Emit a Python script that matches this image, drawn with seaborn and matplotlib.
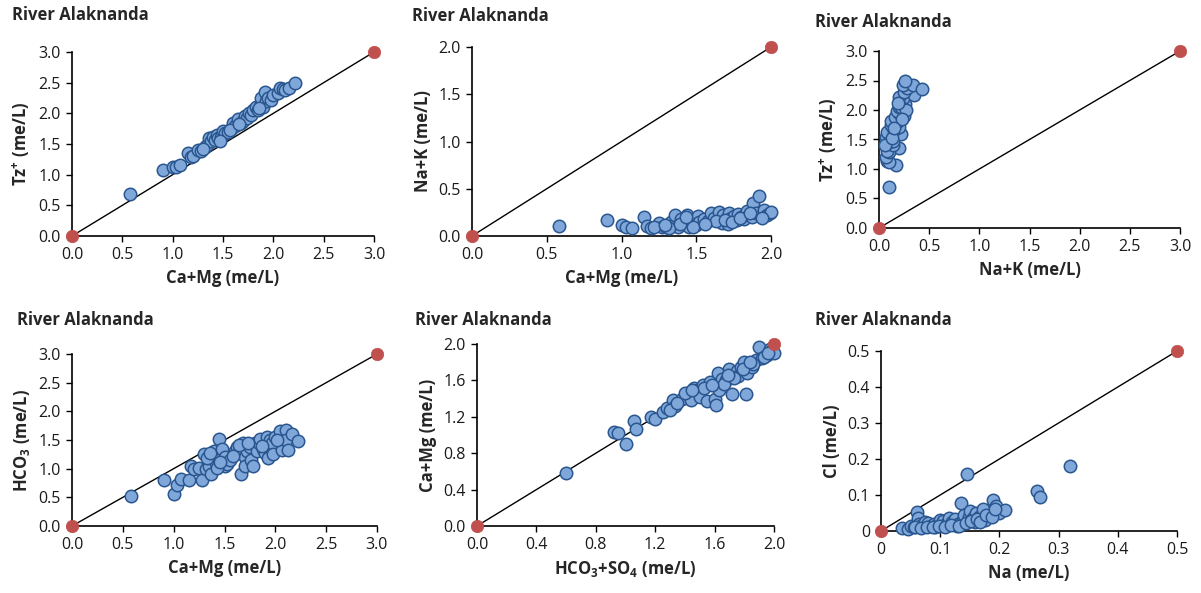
import matplotlib
matplotlib.use("Agg")
import matplotlib.pyplot as plt
import seaborn as sns
import pandas as pd

sns.set_style("ticks")
plt.rcParams['font.family'] = ['Open Sans', 'DejaVu Sans']
plt.rcParams['mathtext.fontset'] = 'custom'
plt.rcParams['mathtext.bf'] = 'Open Sans:bold'
plt.rcParams['mathtext.rm'] = 'Open Sans'

TITLE = "River Alaknanda"

# Panel 1: Tz+ vs Ca+Mg
p1_camg = [0.58, 0.90, 1.00, 1.03, 1.07, 1.15, 1.18, 1.20, 1.25, 1.28, 1.32, 1.34, 1.36, 1.38, 1.40,
           1.42, 1.44, 1.45, 1.48, 1.50, 1.52, 1.55, 1.58, 1.60, 1.62, 1.65, 1.68, 1.70, 1.72, 1.74,
           1.76, 1.78, 1.80, 1.83, 1.85, 1.88, 1.88, 1.90, 1.92, 1.93, 1.95, 1.98, 2.00, 2.05, 2.07,
           2.10, 2.12, 2.16, 2.22, 1.30, 1.47, 1.57, 1.66, 1.86]
p1_tz = [0.69, 1.07, 1.13, 1.12, 1.16, 1.35, 1.28, 1.30, 1.40, 1.38, 1.45, 1.48, 1.60, 1.55, 1.62,
         1.57, 1.65, 1.60, 1.62, 1.72, 1.68, 1.70, 1.75, 1.85, 1.80, 1.91, 1.85, 1.88, 1.95, 1.92,
         2.00, 1.98, 2.05, 2.10, 2.05, 2.15, 2.25, 2.10, 2.35, 2.20, 2.25, 2.22, 2.30, 2.33, 2.42,
         2.40, 2.38, 2.41, 2.49, 1.42, 1.55, 1.73, 1.82, 2.08]

# Panel 2: Na+K vs Ca+Mg
p2_camg = [0.58, 0.90, 1.00, 1.03, 1.07, 1.15, 1.17, 1.20, 1.25, 1.27, 1.30, 1.33, 1.35, 1.36, 1.38,
           1.40, 1.42, 1.44, 1.45, 1.47, 1.50, 1.51, 1.52, 1.55, 1.58, 1.60, 1.62, 1.65, 1.67, 1.68,
           1.70, 1.72, 1.73, 1.75, 1.77, 1.78, 1.80, 1.82, 1.84, 1.85, 1.87, 1.88, 1.90, 1.92, 1.93,
           1.95, 1.97, 1.99, 2.00, 1.32, 1.48, 1.63, 1.71, 1.22, 1.29, 1.39, 1.43, 1.56, 1.69,
           1.74, 1.79, 1.86, 1.94]
p2_nak = [0.11, 0.17, 0.12, 0.10, 0.08, 0.20, 0.11, 0.08, 0.14, 0.09, 0.10, 0.15, 0.12, 0.22, 0.10,
          0.18, 0.14, 0.22, 0.10, 0.16, 0.12, 0.21, 0.15, 0.18, 0.16, 0.24, 0.19, 0.25, 0.14, 0.22,
          0.18, 0.24, 0.19, 0.21, 0.17, 0.23, 0.20, 0.18, 0.26, 0.22, 0.20, 0.35, 0.24, 0.42, 0.21,
          0.27, 0.22, 0.24, 0.25, 0.08, 0.09, 0.16, 0.13, 0.10, 0.12, 0.13, 0.20, 0.13, 0.17,
          0.15, 0.19, 0.24, 0.19]

# Panel 3: Tz+ vs Na+K
p3_nak = [0.10, 0.17, 0.08, 0.10, 0.07, 0.20, 0.10, 0.08, 0.14, 0.10, 0.14, 0.07, 0.10, 0.08, 0.15,
          0.22, 0.16, 0.20, 0.12, 0.18, 0.12, 0.25, 0.16, 0.20, 0.18, 0.26, 0.20, 0.22, 0.24, 0.20,
          0.35, 0.25, 0.28, 0.24, 0.34, 0.26, 0.43, 0.22, 0.27, 0.23, 0.06, 0.13, 0.19, 0.15]
p3_tz = [0.69, 1.07, 1.13, 1.12, 1.20, 1.35, 1.28, 1.30, 1.40, 1.45, 1.48, 1.55, 1.60, 1.62, 1.65,
         1.60, 1.68, 1.72, 1.75, 1.80, 1.82, 1.90, 1.88, 1.95, 1.98, 2.10, 2.05, 2.15, 2.20, 2.22,
         2.25, 2.30, 2.38, 2.42, 2.42, 2.50, 2.35, 2.05, 2.00, 1.85, 1.40, 1.52, 2.12, 1.70]

# Panel 4: HCO3 vs Ca+Mg
p4_camg = [0.58, 0.90, 1.00, 1.03, 1.07, 1.15, 1.17, 1.20, 1.25, 1.28, 1.30, 1.32, 1.35, 1.37, 1.38,
           1.40, 1.42, 1.45, 1.45, 1.48, 1.50, 1.50, 1.52, 1.55, 1.60, 1.62, 1.65, 1.66, 1.68, 1.70,
           1.70, 1.72, 1.75, 1.76, 1.78, 1.80, 1.82, 1.84, 1.85, 1.88, 1.90, 1.92, 1.93, 1.95, 1.97,
           1.98, 2.00, 2.05, 2.07, 2.10, 2.10, 2.12, 2.16, 2.22, 1.33, 1.43, 1.58, 1.36, 1.46,
           1.64, 1.73, 1.87, 2.02]
p4_hco3 = [0.53, 0.80, 0.55, 0.72, 0.82, 0.80, 1.05, 1.00, 1.02, 0.80, 1.25, 1.00, 1.05, 0.90, 1.20,
           1.30, 1.10, 1.52, 1.15, 1.35, 1.05, 1.20, 1.08, 1.15, 1.30, 1.38, 1.32, 0.90, 1.45, 1.20,
           1.05, 1.30, 1.38, 1.15, 1.05, 1.45, 1.30, 1.45, 1.52, 1.35, 1.28, 1.55, 1.18, 1.50, 1.45,
           1.25, 1.55, 1.65, 1.32, 1.68, 1.50, 1.32, 1.60, 1.49, 1.18, 1.02, 1.22, 1.28, 1.12,
           1.42, 1.45, 1.40, 1.50]

# Panel 5: Ca+Mg vs HCO3+SO4
p5_hco3so4 = [0.60, 0.92, 0.95, 1.00, 1.06, 1.07, 1.17, 1.20, 1.25, 1.28, 1.32, 1.33, 1.38, 1.42, 1.44,
              1.46, 1.48, 1.50, 1.52, 1.55, 1.57, 1.60, 1.61, 1.62, 1.63, 1.65, 1.68, 1.70, 1.72, 1.75,
              1.76, 1.78, 1.80, 1.81, 1.82, 1.85, 1.88, 1.90, 1.92, 1.95, 1.97, 1.98, 2.00, 1.30, 1.40,
              1.53, 1.66, 1.73, 1.86, 1.93, 1.35, 1.45, 1.58, 1.69, 1.79, 1.84, 1.96]
p5_camg = [0.58, 1.03, 1.02, 0.90, 1.15, 1.07, 1.20, 1.18, 1.25, 1.30, 1.38, 1.32, 1.40, 1.45, 1.38,
           1.52, 1.50, 1.42, 1.55, 1.37, 1.58, 1.40, 1.33, 1.68, 1.50, 1.62, 1.60, 1.72, 1.45, 1.70,
           1.65, 1.75, 1.80, 1.45, 1.68, 1.75, 1.82, 1.97, 1.85, 1.88, 1.95, 1.92, 1.90, 1.28, 1.46,
           1.52, 1.56, 1.63, 1.78, 1.86, 1.35, 1.50, 1.55, 1.66, 1.72, 1.80, 1.90]

# Panel 6: Cl vs Na
p6_na = [0.035, 0.045, 0.050, 0.055, 0.060, 0.062, 0.065, 0.070, 0.075, 0.080, 0.085, 0.090, 0.095, 0.100,
         0.105, 0.110, 0.115, 0.120, 0.125, 0.130, 0.135, 0.138, 0.140, 0.145, 0.148, 0.150, 0.155, 0.160,
         0.165, 0.170, 0.175, 0.180, 0.185, 0.190, 0.195, 0.200, 0.210, 0.263, 0.268, 0.320, 0.058, 0.092,
         0.128, 0.158, 0.172, 0.068, 0.078, 0.088, 0.098, 0.108, 0.118, 0.132, 0.143, 0.152, 0.163,
         0.168, 0.178, 0.188, 0.193]
p6_cl = [0.008, 0.005, 0.015, 0.012, 0.052, 0.035, 0.020, 0.018, 0.025, 0.022, 0.015, 0.020, 0.018, 0.030,
         0.028, 0.020, 0.035, 0.025, 0.032, 0.020, 0.078, 0.030, 0.045, 0.158, 0.040, 0.055, 0.035, 0.050,
         0.040, 0.045, 0.030, 0.055, 0.050, 0.085, 0.070, 0.050, 0.058, 0.112, 0.095, 0.180, 0.010, 0.012,
         0.015, 0.025, 0.060, 0.008, 0.012, 0.010, 0.015, 0.012, 0.018, 0.015, 0.022, 0.028, 0.032,
         0.025, 0.045, 0.040, 0.060]

# reference 1:1 lines (endpoints)
ref1 = [0.0, 3.0]
ref2 = [0.0, 2.0]
ref6 = [0.0, 0.5]

fig = plt.figure(figsize=(12.01, 5.93), dpi=100)
W, H = 1201, 593

FILL = '#7FA7D9'
EDGE = '#2A5690'
RED = '#C0504D'


def make_ax(l, r, t, b):
    return fig.add_axes([l / W, 1 - b / H, (r - l) / W, (b - t) / H])


panels = [
    dict(box=(72, 374, 52, 236), x=p1_camg, y=p1_tz, ref=ref1, ticks=[0, 0.5, 1, 1.5, 2, 2.5, 3],
         fmt='{:.1f}', xl='Ca+Mg (me/L)', yl=r'Tz$^{\mathbf{+}}$ (me/L)', title=(12, 15)),
    dict(box=(472, 771, 47, 236), x=p2_camg, y=p2_nak, ref=ref2, ticks=[0, 0.5, 1, 1.5, 2],
         fmt='{:.1f}', xl='Ca+Mg (me/L)', yl='Na+K (me/L)', title=(412, 16)),
    dict(box=(879, 1180, 51, 228), x=p3_nak, y=p3_tz, ref=ref1, ticks=[0, 0.5, 1, 1.5, 2, 2.5, 3],
         fmt='{:.1f}', xl='Na+K (me/L)', yl=r'Tz$^{\mathbf{+}}$ (me/L)', title=(815, 22)),
    dict(box=(72, 377, 354, 526), x=p4_camg, y=p4_hco3, ref=ref1, ticks=[0, 0.5, 1, 1.5, 2, 2.5, 3],
         fmt='{:.1f}', xl='Ca+Mg (me/L)', yl=r'HCO$_{\mathbf{3}}$ (me/L)', title=(17, 320)),
    dict(box=(477, 774, 344, 526), x=p5_hco3so4, y=p5_camg, ref=ref2, ticks=[0, 0.4, 0.8, 1.2, 1.6, 2.0],
         fmt='{:.1f}', xl=r'HCO$_{\mathbf{3}}$+SO$_{\mathbf{4}}$ (me/L)', yl='Ca+Mg (me/L)', title=(415, 320)),
    dict(box=(881, 1177, 351, 531), x=p6_na, y=p6_cl, ref=ref6, ticks=[0, 0.1, 0.2, 0.3, 0.4, 0.5],
         fmt='six', xl='Na (me/L)', yl='Cl (me/L)', title=(815, 320)),
]

for p in panels:
    ax = make_ax(*p['box'])
    df = pd.DataFrame({'x': p['x'], 'y': p['y']})
    sns.lineplot(x=p['ref'], y=p['ref'], ax=ax, color='black', lw=1.0, zorder=2)
    sns.scatterplot(data=df, x='x', y='y', ax=ax, s=80, color=FILL, edgecolor=EDGE,
                    linewidth=1.1, zorder=3, legend=False)
    sns.scatterplot(x=p['ref'], y=p['ref'], ax=ax, s=80, color=RED, edgecolor=RED,
                    linewidth=0.5, zorder=4, legend=False)
    for c in ax.collections:
        c.set_clip_on(False)
    lo, hi = p['ref']
    ax.set_xlim(lo, hi)
    ax.set_ylim(lo, hi)
    ax.set_xticks(p['ticks'])
    ax.set_yticks(p['ticks'])
    if p['fmt'] == 'six':
        labs = ['0'] + ['{:.1f}'.format(t) for t in p['ticks'][1:]]
    else:
        labs = [p['fmt'].format(t) for t in p['ticks']]
    ax.set_xticklabels(labs)
    ax.set_yticklabels(labs)
    ax.tick_params(axis='both', labelsize=11.5, length=4, width=1.0, color='black',
                   labelcolor='#1a1a1a', direction='out', pad=4)
    for side in ['top', 'right']:
        ax.spines[side].set_visible(False)
    for side in ['left', 'bottom']:
        ax.spines[side].set_color('black')
        ax.spines[side].set_linewidth(1.2)
    ax.set_xlabel(p['xl'], fontsize=12, fontweight='bold', labelpad=4)
    ax.set_ylabel(p['yl'], fontsize=12, fontweight='bold', labelpad=5)
    tx, ty = p['title']
    fig.text(tx / W, 1 - ty / H, TITLE, fontsize=12, fontweight='bold', va='center', ha='left')

fig.savefig('out.png', dpi=100)
